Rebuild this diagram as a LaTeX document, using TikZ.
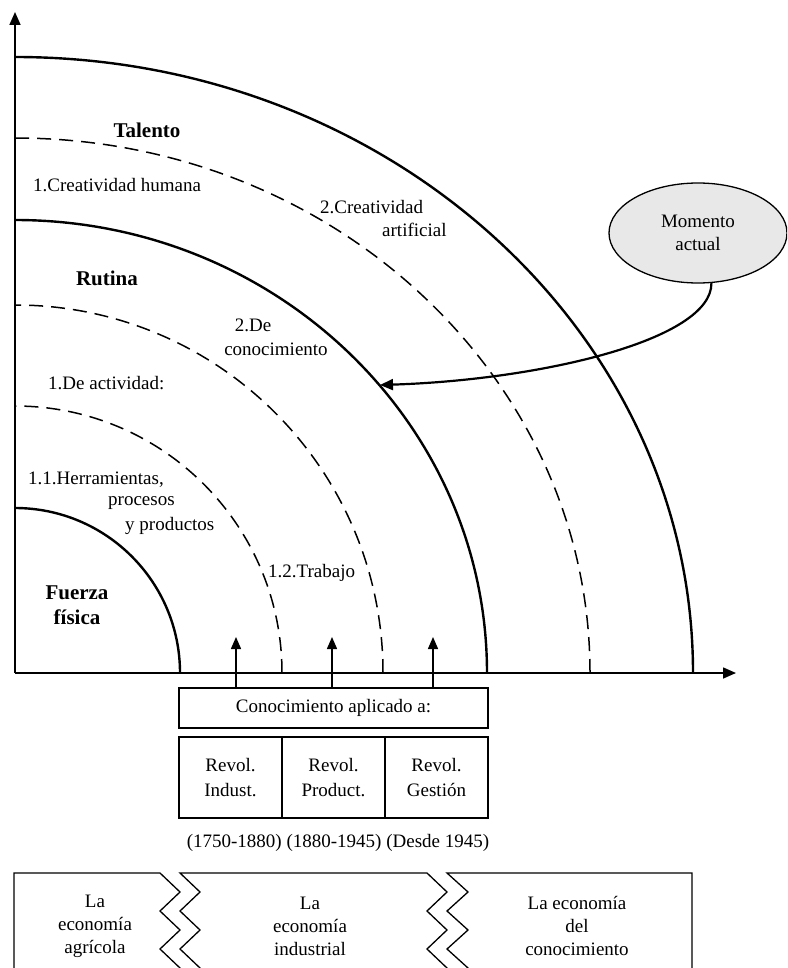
\documentclass[tikz,border=0pt]{standalone}
\usepackage{fontspec}
\setmainfont{Liberation Serif}
\usetikzlibrary{arrows,arrows.meta,shapes}
\usetikzlibrary{positioning}
\usetikzlibrary{calc}
\tikzstyle{solidarc}=[draw,line width=2.4pt]
\tikzstyle{dashedarc}=[draw,line width=1.5pt,dash pattern=on 14pt off 8pt]
\tikzstyle{axisline}=[draw,line width=1.6pt,-{Triangle[length=13pt,width=11pt]}]
\tikzstyle{uparrow}=[draw,line width=1.5pt,-{Triangle[length=12pt,width=10pt]}]
\tikzstyle{txt}=[font=\fontsize{19}{23}\selectfont,inner sep=0pt,align=center]
\tikzstyle{zone}=[font=\bfseries\fontsize{21}{25}\selectfont,inner sep=0pt,align=center]
\tikzstyle{framebox}=[draw,line width=1.3pt,outer sep=0pt,inner sep=0pt,align=center,font=\fontsize{19}{25}\selectfont]
\tikzstyle{economybox}=[draw,line width=1.3pt]

\begin{document}
\begin{tikzpicture}[x=1pt,y=-1pt]

    % Page frame
    \clip (0,0) rectangle (787,968);

    % Axes
    \coordinate (O) at (15,673);
    \coordinate (ytip) at (15,12);
    \coordinate (xtip) at (736,673);
    \path[axisline] (O) -- (ytip);
    \path[axisline] (O) -- (xtip);

    % Quarter arcs, inner to outer
    \foreach \rx/\ry/\kind in {165/165/solidarc, 267/267/dashedarc, 368/368/dashedarc, 472/453/solidarc, 575/535/dashedarc, 678/616/solidarc}
        \path[\kind] ($(O)+(\rx,0)$) arc[start angle=0, end angle=-90, x radius=\rx, y radius=\ry];

    % Zone titles
    \node[zone] (talento) at (147,130) {Talento};
    \node[zone] (rutina) at (107,278) {Rutina};
    \node[zone] (fuerza) at (77,605) {Fuerza\\física};

    % Labels inside the zones
    \node[txt,anchor=west] (crea1) at (33,185) {1.Creatividad humana};
    \node[txt,anchor=west] (crea2) at (320,207) {2.Creatividad};
    \node[txt,anchor=west] (crea2b) at (382,230) {artificial};
    \node[txt] (conoc2) at (253,325) {2.De};
    \node[txt] (conoc2b) at (276,349) {conocimiento};
    \node[txt,anchor=west] (activ) at (48,383) {1.De actividad:};
    \node[txt,anchor=west] (herr) at (28,480) {1.1.Herramientas,};
    \node[txt,anchor=west] (proc) at (108,503) {procesos};
    \node[txt,anchor=west] (prod) at (125,526) {y productos};
    \node[txt,anchor=west] (trab) at (268,573) {1.2.Trabajo};

    % Present moment
    \node[ellipse,draw,line width=1.3pt,fill=black!9,minimum width=178pt,minimum height=100pt,txt,font=\fontsize{19}{23}\selectfont] (momento) at (698,233) {Momento\\actual};
    \coordinate (rutarc) at (380,385);
    \draw[line width=2.2pt,-{Triangle[length=13pt,width=11pt]}] (momento.-75) .. controls (712,340) and (540,380) .. (rutarc);

    % Applied knowledge
    \node[framebox,minimum width=309pt,minimum height=40pt] (conoc) at (333.5,708) {Conocimiento aplicado a:};
    \node[framebox,minimum width=103pt,minimum height=81pt] (indust) at (230.5,777.5) {Revol.\\Indust.};
    \node[framebox,minimum width=103pt,minimum height=81pt,right=0pt of indust] (product) {Revol.\\Product.};
    \node[framebox,minimum width=103pt,minimum height=81pt,right=0pt of product] (gestion) {Revol.\\Gestión};
    \foreach \x/\name in {236/t1, 332/t2, 433/t3}
        \coordinate (\name) at (\x,637);
    \foreach \name in {t1,t2,t3}
        \path[uparrow] (conoc.north -| \name) -- (\name);

    \node[txt] (fechas) at (338,843) {(1750-1880) (1880-1945) (Desde 1945)};

    % Economies
    \draw[economybox] (14,873) -- (160,873) -- (180,892) -- (160,911) -- (180,930) -- (160,949) -- (180,968) -- (160,987) -- (14,987) -- cycle;
    \draw[economybox] (180,873) -- (427,873) -- (447,892) -- (427,911) -- (447,930) -- (427,949) -- (447,968) -- (427,987)
        -- (180,987) -- (200,968) -- (180,949) -- (200,930) -- (180,911) -- (200,892) -- cycle;
    \draw[economybox] (447,873) -- (692,873) -- (692,987) -- (447,987) -- (468,968) -- (447,949) -- (468,930) -- (447,911) -- (468,892) -- cycle;
    \node[txt] (agricola) at (95,926) {La\\economía\\agrícola};
    \node[txt] (industrial) at (310,926) {La\\economía\\industrial};
    \node[txt] (conocimiento) at (577,926) {La economía\\del\\conocimiento};

\end{tikzpicture}
\end{document}
